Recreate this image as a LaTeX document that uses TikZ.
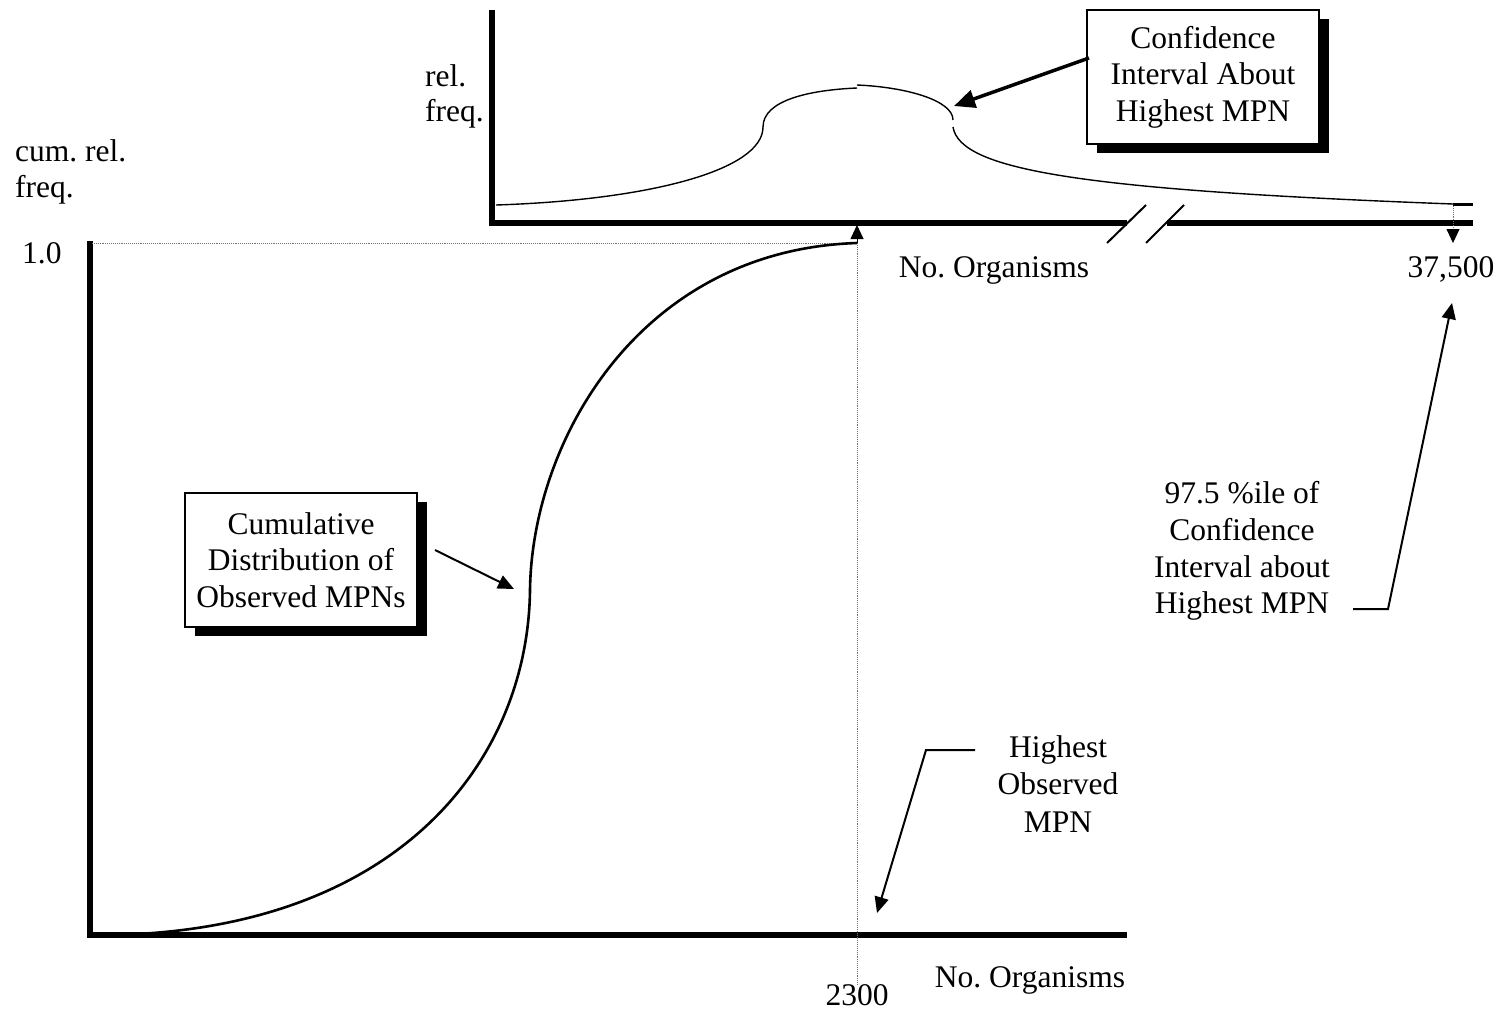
\documentclass[tikz,border=0pt]{standalone}
\usepackage{fontspec}
\setmainfont{Liberation Serif}
\usetikzlibrary{arrows.meta,shadows}
\begin{document}
\begin{tikzpicture}[x=1pt,y=-1pt,
  txt/.style={font=\fontsize{31.5}{36.5}\selectfont, inner sep=0pt, align=center},
  axis/.style={line width=5.5pt},
  curve/.style={line width=2.6pt},
  thincurve/.style={line width=1.4pt},
  guide/.style={line width=0.9pt, densely dotted, black!55},
  callout/.style={line width=2pt, -{Triangle[length=16pt,width=14pt]}},
  boxed/.style={txt, draw, line width=1.8pt, fill=white, minimum width=232pt, minimum height=134pt,
    drop shadow={shadow xshift=10pt, shadow yshift=-9pt, opacity=1, fill=black}},
]
\useasboundingbox (0,0) rectangle (1504,1013);

% axes
\draw[axis, line join=miter] (90,241) -- (90,935) -- (1127,935);
\draw[axis, line join=miter] (492,10) -- (492,223) -- (1127,223);
\draw[axis] (1167,223) -- (1473,223);
% break marks
\draw[line width=2pt] (1107,243) -- (1146,205);
\draw[line width=2pt] (1146,243) -- (1184,205);

% guides
\draw[guide] (92,243) -- (857,243);
\draw[guide] (857,243) -- (857,985);
\draw[line width=0.9pt, -{Triangle[length=14pt,width=13pt]}] (857,243) -- (857,225);
\draw[guide, -{Triangle[length=14pt,width=13pt,color=black]}] (1453,206) -- (1453,243);

% cumulative curve
\draw[curve] (110,935) .. controls (400,930) and (528,760) .. (530,590)
  .. controls (532,440) and (640,250) .. (857,243);

% relative frequency curve
\draw[thincurve] (496,205) .. controls (650,200) and (763,170) .. (763,127);
\draw[thincurve] (763,127) .. controls (763,100) and (810,90) .. (857,88);
\draw[thincurve] (857,85) .. controls (905,87) and (953,100) .. (953,120);
\draw[thincurve] (953,127) .. controls (960,170) and (1080,190) .. (1453,204);
\draw[line width=3pt] (1453,204) -- (1473,204);

% boxes
\node[boxed] (cibox) at (1203,77) {Confidence\\Interval About\\Highest MPN};
\node[boxed] (cdbox) at (301,560) {Cumulative\\Distribution of\\Observed MPNs};

% labels
\node[txt, anchor=base west] (cumrel) at (15,161) {cum.\ rel.};
\node[txt, anchor=base west] (cumfreq) at (15,197) {freq.};
\node[txt, anchor=base west] (one) at (22,263) {1.0};
\node[txt, anchor=base west] (rel) at (425,86) {rel.};
\node[txt, anchor=base west] (relfreq) at (425,121) {freq.};
\node[txt, anchor=base] (orgtop) at (994,277) {No.\ Organisms};
\node[txt, anchor=base] (big) at (1451,277) {37,500};
\node[txt, anchor=base] (orgbot) at (1030,987) {No.\ Organisms};
\node[txt, anchor=base] (small) at (857,1005) {2300};
\node[txt, anchor=base] (h1) at (1058,757) {Highest};
\node[txt, anchor=base] (h2) at (1058,794) {Observed};
\node[txt, anchor=base] (h3) at (1058,832) {MPN};
\node[txt, anchor=base] (p1) at (1242,503) {97.5 \%ile of};
\node[txt, anchor=base] (p2) at (1242,540) {Confidence};
\node[txt, anchor=base] (p3) at (1242,577) {Interval about};
\node[txt, anchor=base] (p4) at (1242,613) {Highest MPN};

% callout arrows
\coordinate (ciStart) at (1089,58);
\coordinate (ciTip) at (954,106);
\draw[line width=3.5pt, -{Triangle[length=21pt,width=18pt]}] (ciStart) -- (ciTip);

\coordinate (cdStart) at (435,550);
\coordinate (cdTip) at (514,589);
\draw[callout] (cdStart) -- (cdTip);

\coordinate (hiStart) at (975,750);
\coordinate (hiBend) at (926,750);
\coordinate (hiTip) at (877,913);
\draw[callout] (hiStart) -- (hiBend) -- (hiTip);

\coordinate (pStart) at (1353,609);
\coordinate (pBend) at (1388,609);
\coordinate (pTip) at (1452,303);
\draw[callout] (pStart) -- (pBend) -- (pTip);
\end{tikzpicture}
\end{document}
